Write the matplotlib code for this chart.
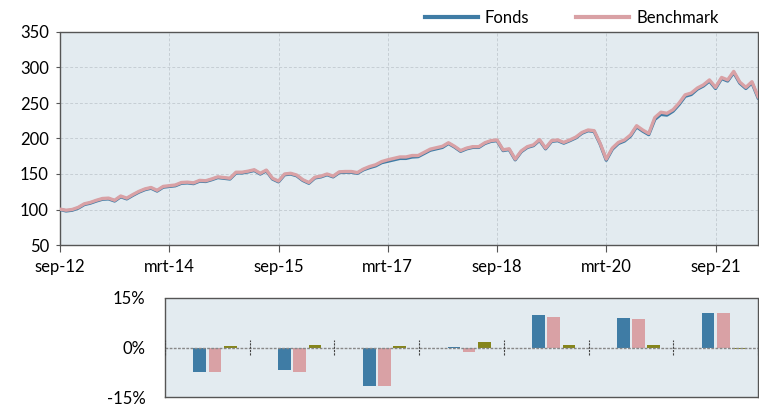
import matplotlib
matplotlib.use('Agg')
import matplotlib.pyplot as plt
import numpy as np

plt.rcParams['font.family'] = ['Lato', 'DejaVu Sans']

# monthly index values, sep-12 .. apr-22 (start = 100)
fonds = [100, 98, 99, 102, 107, 109, 112, 114.5, 115, 112,
         118, 115, 120, 124.5, 128, 130, 126, 131.5, 132.5, 133.5,
         137, 137.5, 136.5, 140, 139.5, 142, 145, 144, 143, 151.5,
         151.5, 153, 155, 150, 154.5, 143, 139, 149, 150, 147.5,
         141, 137, 144.5, 146, 149, 146, 152, 152.5, 152.5, 151,
         156, 159, 161.5, 166, 168, 170, 172, 172, 174, 174.5,
         179, 183.5, 185.5, 187.5, 193, 188, 182, 185.5, 187.5, 187.5,
         193, 196, 197, 183, 184.5, 170, 181.5, 187.5, 190, 197.5,
         185.5, 196, 197, 193.5, 197, 201, 207.5, 211, 210, 192,
         169.5, 185, 193, 196.5, 203.5, 216.5, 210.5, 205.5, 227, 234,
         233, 238.5, 248, 259.5, 262, 269.5, 274, 281, 270.5, 284.5,
         281, 293, 278, 270.5, 278.5, 257.5]
benchmark = [100.5, 99, 100, 103, 108, 110, 113, 115.5, 116, 113,
             119, 116, 121, 125.5, 129, 131, 127, 132.5, 133.5, 134.5,
             138, 138.5, 137.5, 141, 140.5, 143, 146, 145, 144, 152.5,
             152.5, 154, 156, 151, 155.5, 144, 140, 150, 151, 148.5,
             142, 138, 145.5, 147, 150, 147, 153, 153.5, 153.5, 152,
             157, 160.5, 163, 167.5, 170, 172, 174, 174, 176, 176,
             180.5, 185, 187, 189, 194, 189, 183, 186.5, 188.5, 188.5,
             194, 197, 198, 184, 185.5, 171, 182.5, 188.5, 191, 198.5,
             186.5, 197, 198, 194.5, 198, 202, 208.5, 212, 211, 193,
             171, 186.5, 194.5, 198, 205, 218, 212, 207, 229.5, 237,
             235.5, 240.5, 250, 261.5, 264, 271, 275.5, 282.5, 272, 286,
             282.5, 294.5, 279.5, 272, 280, 259]
tick_months = [0, 18, 36, 54, 72, 90, 108]
tick_labels = ['sep-12', 'mrt-14', 'sep-15', 'mrt-17', 'sep-18', 'mrt-20', 'sep-21']

# yearly returns (%)
ret_fonds = [-7.3, -6.7, -11.6, 0.2, 9.7, 8.9, 10.5]
ret_bench = [-7.5, -7.3, -11.8, -1.3, 9.2, 8.5, 10.5]
ret_diff = [0.6, 0.8, 0.5, 1.7, 0.8, 0.7, -0.5]

BLUE = '#3f7ca5'
PINK = '#d9a1a5'
OLIVE = '#85851c'
BG = '#e3ebf0'
GRID = '#c6ced4'
EDGE = '#555555'

fig = plt.figure(figsize=(7.59, 4.05), dpi=100)

# --- index chart ---
ax = fig.add_axes([60 / 759, 1 - 245 / 405, 698 / 759, 213 / 405])
ax.set_facecolor(BG)
months = np.arange(len(benchmark))
ax.plot(months, fonds, color=BLUE, lw=2.4, label='Fonds', zorder=3)
ax.plot(months, benchmark, color=PINK, lw=2.4, label='Benchmark', zorder=4)
ax.set_xlim(0, len(benchmark) - 1)
ax.set_ylim(50, 350)
ax.set_yticks(range(50, 351, 50))
ax.set_xticks(tick_months)
ax.set_xticklabels(tick_labels)
ax.grid(True, color=GRID, ls=(0, (3, 2)), lw=0.7)
ax.set_axisbelow(True)
for s in ax.spines.values():
    s.set_linestyle((0, (1, 1)))
    s.set_color(EDGE)
    s.set_linewidth(1.0)
ax.tick_params(axis='x', length=5, color=EDGE, pad=5, labelsize=12)
ax.tick_params(axis='y', length=3, color=EDGE, pad=5, labelsize=12)

leg = ax.legend(loc='center', bbox_to_anchor=(0.733, 1.066), ncol=2, frameon=False,
                fontsize=12, handlelength=3.2, handletextpad=0.4, columnspacing=2.8)
for line in leg.get_lines():
    line.set_linewidth(3)

# --- yearly returns ---
bx = fig.add_axes([165 / 759, 1 - 397 / 405, 593 / 759, 99 / 405])
bx.set_facecolor(BG)
x = np.arange(len(ret_fonds))
w = 0.15
bx.bar(x - 0.09, ret_fonds, w, color=BLUE, zorder=3)
bx.bar(x + 0.09, ret_bench, w, color=PINK, zorder=3)
bx.bar(x + 0.27, ret_diff, w, color=OLIVE, zorder=3)
bx.set_xlim(-0.5, len(ret_fonds) - 0.5)
bx.set_ylim(-15, 15)
bx.set_yticks([-15, 0, 15])
bx.set_yticklabels(['-15%', '0%', '15%'])
bx.set_xticks([])
bx.tick_params(axis='y', length=0, pad=14, labelsize=12)
for s in bx.spines.values():
    s.set_linestyle((0, (1, 1)))
    s.set_color(EDGE)
    s.set_linewidth(1.0)

# zero axis with cross ticks between the years
bx.axhline(0, color='#888888', ls=(0, (2, 1)), lw=1.0, zorder=4)
bx.vlines(np.arange(-0.5, len(ret_fonds)), -2.2, 2.2, color='#444444',
          ls=(0, (2, 1)), lw=0.8, zorder=4)

plt.savefig('out.png', dpi=100)
